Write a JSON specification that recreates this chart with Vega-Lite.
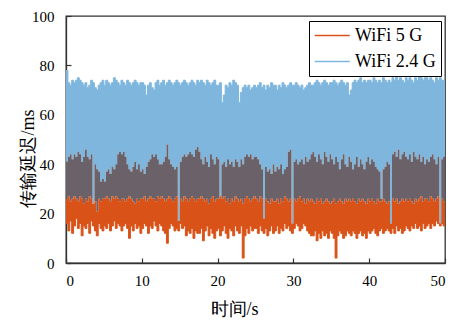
{
  "$schema": "https://vega.github.io/schema/vega-lite/v6.json",
  "width": 379,
  "height": 247,
  "autosize": {"type": "none"},
  "padding": {"left": 66, "top": 16, "right": 9, "bottom": 57},
  "config": {
    "view": {"stroke": "#333333", "strokeWidth": 1.3},
    "font": "Times New Roman",
    "axis": {
      "grid": false,
      "domainColor": "#333333",
      "domainWidth": 1.3,
      "tickColor": "#333333",
      "tickWidth": 1.2,
      "tickSize": -5,
      "labelFont": "Times New Roman",
      "labelFontSize": 15,
      "labelColor": "#000000",
      "titleFont": "Times New Roman",
      "titleFontSize": 18,
      "titleFontWeight": "normal",
      "titleColor": "#000000"
    },
    "legend": {
      "orient": "none",
      "legendX": 243,
      "legendY": 5,
      "strokeColor": "#000000",
      "strokeWidth": 1,
      "fillColor": "#ffffff",
      "padding": 5,
      "labelFont": "Times New Roman",
      "labelFontSize": 18,
      "labelColor": "#000000",
      "symbolType": "M-1,0H3",
      "symbolSize": 306,
      "symbolStrokeWidth": 1.5,
      "labelOffset": 22,
      "rowPadding": 7
    }
  },
  "data": {
    "values": [
      {"t":0,"h24":78,"l24":41,"h5":26,"l5":16},{"t":0.25,"h24":73,"l24":43,"h5":27,"l5":13},{"t":0.5,"h24":72,"l24":44,"h5":25,"l5":17},{"t":0.75,"h24":74,"l24":42,"h5":26,"l5":12},{"t":1,"h24":73,"l24":44,"h5":27,"l5":15},{"t":1.25,"h24":74,"l24":43,"h5":26,"l5":18},{"t":1.5,"h24":75,"l24":45,"h5":25,"l5":14},{"t":1.75,"h24":74,"l24":44,"h5":27,"l5":16},{"t":2,"h24":73,"l24":41,"h5":26,"l5":11},{"t":2.25,"h24":72,"l24":43,"h5":24,"l5":15},
      {"t":2.5,"h24":73,"l24":46,"h5":26,"l5":14},{"t":2.75,"h24":71,"l24":43,"h5":25,"l5":16},{"t":3,"h24":72,"l24":42,"h5":27,"l5":12},{"t":3.25,"h24":74,"l24":44,"h5":26,"l5":17},{"t":3.5,"h24":73,"l24":24,"h5":24,"l5":15},{"t":3.75,"h24":71,"l24":40,"h5":25,"l5":13},{"t":4,"h24":70,"l24":38,"h5":21,"l5":11},{"t":4.25,"h24":72,"l24":37,"h5":26,"l5":16},{"t":4.5,"h24":73,"l24":33,"h5":25,"l5":14},{"t":4.75,"h24":74,"l24":34,"h5":26,"l5":13},
      {"t":5,"h24":72,"l24":33,"h5":26,"l5":15},{"t":5.25,"h24":74,"l24":37,"h5":27,"l5":14},{"t":5.5,"h24":73,"l24":38,"h5":26,"l5":16},{"t":5.75,"h24":72,"l24":36,"h5":25,"l5":13},{"t":6,"h24":73,"l24":39,"h5":27,"l5":15},{"t":6.25,"h24":75,"l24":38,"h5":26,"l5":17},{"t":6.5,"h24":74,"l24":40,"h5":27,"l5":14},{"t":6.75,"h24":73,"l24":44,"h5":26,"l5":16},{"t":7,"h24":72,"l24":45,"h5":25,"l5":15},{"t":7.25,"h24":74,"l24":44,"h5":26,"l5":13},
      {"t":7.5,"h24":73,"l24":45,"h5":26,"l5":15},{"t":7.75,"h24":72,"l24":43,"h5":25,"l5":16},{"t":8,"h24":74,"l24":40,"h5":26,"l5":14},{"t":8.25,"h24":73,"l24":38,"h5":27,"l5":10},{"t":8.5,"h24":72,"l24":37,"h5":26,"l5":15},{"t":8.75,"h24":73,"l24":39,"h5":25,"l5":13},{"t":9,"h24":74,"l24":41,"h5":24,"l5":16},{"t":9.25,"h24":73,"l24":38,"h5":26,"l5":14},{"t":9.5,"h24":72,"l24":40,"h5":25,"l5":15},{"t":9.75,"h24":73,"l24":37,"h5":26,"l5":12},
      {"t":10,"h24":73,"l24":38,"h5":26,"l5":14},{"t":10.25,"h24":72,"l24":36,"h5":27,"l5":16},{"t":10.5,"h24":68,"l24":39,"h5":25,"l5":15},{"t":10.75,"h24":72,"l24":41,"h5":26,"l5":12},{"t":11,"h24":73,"l24":42,"h5":27,"l5":15},{"t":11.25,"h24":71,"l24":44,"h5":26,"l5":14},{"t":11.5,"h24":70,"l24":43,"h5":26,"l5":17},{"t":11.75,"h24":73,"l24":44,"h5":25,"l5":15},{"t":12,"h24":74,"l24":42,"h5":27,"l5":13},{"t":12.25,"h24":72,"l24":40,"h5":26,"l5":16},
      {"t":12.5,"h24":73,"l24":40,"h5":27,"l5":15},{"t":12.75,"h24":74,"l24":41,"h5":26,"l5":13},{"t":13,"h24":72,"l24":43,"h5":25,"l5":12},{"t":13.25,"h24":73,"l24":48,"h5":26,"l5":8},{"t":13.5,"h24":74,"l24":42,"h5":27,"l5":14},{"t":13.75,"h24":73,"l24":40,"h5":26,"l5":16},{"t":14,"h24":72,"l24":39,"h5":25,"l5":15},{"t":14.25,"h24":73,"l24":38,"h5":26,"l5":13},{"t":14.5,"h24":74,"l24":39,"h5":27,"l5":14},{"t":14.75,"h24":73,"l24":17,"h5":17,"l5":13},
      {"t":15,"h24":72,"l24":41,"h5":26,"l5":16},{"t":15.25,"h24":73,"l24":43,"h5":25,"l5":14},{"t":15.5,"h24":74,"l24":44,"h5":27,"l5":15},{"t":15.75,"h24":73,"l24":43,"h5":26,"l5":11},{"t":16,"h24":72,"l24":44,"h5":25,"l5":13},{"t":16.25,"h24":73,"l24":45,"h5":26,"l5":12},{"t":16.5,"h24":74,"l24":44,"h5":27,"l5":14},{"t":16.75,"h24":73,"l24":43,"h5":26,"l5":10},{"t":17,"h24":72,"l24":46,"h5":25,"l5":13},{"t":17.25,"h24":74,"l24":47,"h5":26,"l5":12},
      {"t":17.5,"h24":73,"l24":45,"h5":26,"l5":12},{"t":17.75,"h24":74,"l24":42,"h5":27,"l5":14},{"t":18,"h24":73,"l24":40,"h5":26,"l5":9},{"t":18.25,"h24":72,"l24":43,"h5":25,"l5":13},{"t":18.5,"h24":74,"l24":41,"h5":26,"l5":15},{"t":18.75,"h24":73,"l24":39,"h5":24,"l5":11},{"t":19,"h24":72,"l24":44,"h5":26,"l5":14},{"t":19.25,"h24":73,"l24":42,"h5":27,"l5":12},{"t":19.5,"h24":74,"l24":40,"h5":25,"l5":10},{"t":19.75,"h24":72,"l24":43,"h5":26,"l5":13},
      {"t":20,"h24":72,"l24":42,"h5":26,"l5":14},{"t":20.25,"h24":73,"l24":27,"h5":27,"l5":11},{"t":20.5,"h24":65,"l24":40,"h5":26,"l5":13},{"t":20.75,"h24":68,"l24":41,"h5":27,"l5":15},{"t":21,"h24":72,"l24":39,"h5":25,"l5":12},{"t":21.25,"h24":71,"l24":42,"h5":26,"l5":10},{"t":21.5,"h24":73,"l24":40,"h5":24,"l5":14},{"t":21.75,"h24":72,"l24":41,"h5":26,"l5":13},{"t":22,"h24":74,"l24":39,"h5":25,"l5":11},{"t":22.25,"h24":73,"l24":42,"h5":27,"l5":15},
      {"t":22.5,"h24":72,"l24":41,"h5":26,"l5":13},{"t":22.75,"h24":65,"l24":39,"h5":25,"l5":12},{"t":23,"h24":69,"l24":42,"h5":26,"l5":15},{"t":23.25,"h24":71,"l24":40,"h5":24,"l5":2},{"t":23.5,"h24":72,"l24":43,"h5":26,"l5":11},{"t":23.75,"h24":71,"l24":44,"h5":27,"l5":14},{"t":24,"h24":72,"l24":43,"h5":26,"l5":12},{"t":24.25,"h24":70,"l24":44,"h5":25,"l5":15},{"t":24.5,"h24":71,"l24":42,"h5":26,"l5":13},{"t":24.75,"h24":72,"l24":43,"h5":27,"l5":14},
      {"t":25,"h24":71,"l24":43,"h5":26,"l5":14},{"t":25.25,"h24":72,"l24":42,"h5":25,"l5":12},{"t":25.5,"h24":73,"l24":40,"h5":27,"l5":15},{"t":25.75,"h24":71,"l24":38,"h5":26,"l5":13},{"t":26,"h24":72,"l24":18,"h5":18,"l5":12},{"t":26.25,"h24":70,"l24":39,"h5":26,"l5":14},{"t":26.5,"h24":72,"l24":37,"h5":25,"l5":11},{"t":26.75,"h24":71,"l24":38,"h5":24,"l5":13},{"t":27,"h24":73,"l24":36,"h5":26,"l5":15},{"t":27.25,"h24":72,"l24":40,"h5":25,"l5":12},
      {"t":27.5,"h24":72,"l24":37,"h5":25,"l5":13},{"t":27.75,"h24":70,"l24":39,"h5":26,"l5":15},{"t":28,"h24":72,"l24":38,"h5":24,"l5":12},{"t":28.25,"h24":71,"l24":40,"h5":26,"l5":14},{"t":28.5,"h24":73,"l24":36,"h5":25,"l5":13},{"t":28.75,"h24":72,"l24":38,"h5":27,"l5":16},{"t":29,"h24":71,"l24":39,"h5":26,"l5":14},{"t":29.25,"h24":72,"l24":45,"h5":25,"l5":15},{"t":29.5,"h24":73,"l24":46,"h5":26,"l5":13},{"t":29.75,"h24":72,"l24":16,"h5":16,"l5":12},
      {"t":30,"h24":72,"l24":41,"h5":26,"l5":14},{"t":30.25,"h24":73,"l24":42,"h5":25,"l5":16},{"t":30.5,"h24":72,"l24":40,"h5":26,"l5":15},{"t":30.75,"h24":71,"l24":41,"h5":27,"l5":13},{"t":31,"h24":72,"l24":42,"h5":25,"l5":14},{"t":31.25,"h24":70,"l24":40,"h5":26,"l5":16},{"t":31.5,"h24":71,"l24":43,"h5":24,"l5":15},{"t":31.75,"h24":72,"l24":41,"h5":26,"l5":13},{"t":32,"h24":73,"l24":42,"h5":25,"l5":12},{"t":32.25,"h24":72,"l24":44,"h5":26,"l5":11},
      {"t":32.5,"h24":72,"l24":45,"h5":25,"l5":11},{"t":32.75,"h24":73,"l24":43,"h5":24,"l5":13},{"t":33,"h24":74,"l24":41,"h5":26,"l5":9},{"t":33.25,"h24":73,"l24":44,"h5":25,"l5":12},{"t":33.5,"h24":72,"l24":42,"h5":26,"l5":10},{"t":33.75,"h24":73,"l24":40,"h5":24,"l5":13},{"t":34,"h24":74,"l24":45,"h5":25,"l5":11},{"t":34.25,"h24":73,"l24":43,"h5":26,"l5":12},{"t":34.5,"h24":72,"l24":41,"h5":25,"l5":10},{"t":34.75,"h24":73,"l24":44,"h5":24,"l5":13},
      {"t":35,"h24":73,"l24":42,"h5":25,"l5":12},{"t":35.25,"h24":74,"l24":40,"h5":26,"l5":10},{"t":35.5,"h24":73,"l24":43,"h5":24,"l5":2},{"t":35.75,"h24":72,"l24":41,"h5":25,"l5":11},{"t":36,"h24":73,"l24":38,"h5":26,"l5":13},{"t":36.25,"h24":74,"l24":42,"h5":25,"l5":12},{"t":36.5,"h24":73,"l24":44,"h5":24,"l5":10},{"t":36.75,"h24":72,"l24":40,"h5":26,"l5":11},{"t":37,"h24":73,"l24":39,"h5":25,"l5":13},{"t":37.25,"h24":68,"l24":43,"h5":26,"l5":12},
      {"t":37.5,"h24":70,"l24":41,"h5":25,"l5":11},{"t":37.75,"h24":73,"l24":38,"h5":26,"l5":13},{"t":38,"h24":74,"l24":40,"h5":25,"l5":12},{"t":38.25,"h24":73,"l24":43,"h5":24,"l5":10},{"t":38.5,"h24":74,"l24":39,"h5":26,"l5":12},{"t":38.75,"h24":75,"l24":42,"h5":25,"l5":13},{"t":39,"h24":73,"l24":40,"h5":26,"l5":11},{"t":39.25,"h24":74,"l24":38,"h5":25,"l5":12},{"t":39.5,"h24":73,"l24":41,"h5":24,"l5":10},{"t":39.75,"h24":74,"l24":43,"h5":26,"l5":13},
      {"t":40,"h24":74,"l24":40,"h5":25,"l5":12},{"t":40.25,"h24":73,"l24":42,"h5":26,"l5":13},{"t":40.5,"h24":75,"l24":41,"h5":25,"l5":14},{"t":40.75,"h24":74,"l24":39,"h5":24,"l5":12},{"t":41,"h24":73,"l24":38,"h5":26,"l5":11},{"t":41.25,"h24":74,"l24":37,"h5":25,"l5":13},{"t":41.5,"h24":73,"l24":26,"h5":25,"l5":14},{"t":41.75,"h24":75,"l24":38,"h5":26,"l5":12},{"t":42,"h24":74,"l24":39,"h5":25,"l5":13},{"t":42.25,"h24":73,"l24":41,"h5":24,"l5":14},
      {"t":42.5,"h24":74,"l24":40,"h5":25,"l5":13},{"t":42.75,"h24":73,"l24":16,"h5":16,"l5":12},{"t":43,"h24":75,"l24":44,"h5":26,"l5":14},{"t":43.25,"h24":74,"l24":45,"h5":25,"l5":12},{"t":43.5,"h24":76,"l24":43,"h5":26,"l5":15},{"t":43.75,"h24":74,"l24":46,"h5":24,"l5":13},{"t":44,"h24":75,"l24":42,"h5":25,"l5":14},{"t":44.25,"h24":74,"l24":44,"h5":26,"l5":12},{"t":44.5,"h24":73,"l24":45,"h5":25,"l5":13},{"t":44.75,"h24":75,"l24":43,"h5":26,"l5":15},
      {"t":45,"h24":74,"l24":42,"h5":25,"l5":14},{"t":45.25,"h24":75,"l24":44,"h5":26,"l5":13},{"t":45.5,"h24":74,"l24":41,"h5":25,"l5":15},{"t":45.75,"h24":73,"l24":45,"h5":24,"l5":14},{"t":46,"h24":75,"l24":43,"h5":26,"l5":16},{"t":46.25,"h24":74,"l24":42,"h5":25,"l5":14},{"t":46.5,"h24":76,"l24":44,"h5":26,"l5":15},{"t":46.75,"h24":75,"l24":41,"h5":27,"l5":13},{"t":47,"h24":74,"l24":43,"h5":25,"l5":16},{"t":47.25,"h24":75,"l24":40,"h5":26,"l5":14},
      {"t":47.5,"h24":75,"l24":42,"h5":26,"l5":15},{"t":47.75,"h24":74,"l24":41,"h5":25,"l5":16},{"t":48,"h24":75,"l24":43,"h5":27,"l5":14},{"t":48.25,"h24":74,"l24":44,"h5":26,"l5":16},{"t":48.5,"h24":73,"l24":42,"h5":25,"l5":15},{"t":48.75,"h24":75,"l24":40,"h5":26,"l5":17},{"t":49,"h24":74,"l24":43,"h5":27,"l5":16},{"t":49.25,"h24":75,"l24":16,"h5":16,"l5":15},{"t":49.5,"h24":74,"l24":42,"h5":26,"l5":16},{"t":49.75,"h24":74,"l24":43,"h5":25,"l5":15},
      {"t":50,"h24":74,"l24":43,"h5":25,"l5":15}
    ]
  },
  "encoding": {
    "x": {
      "field": "t",
      "type": "quantitative",
      "scale": {"domain": [0, 50], "nice": false},
      "axis": {"title": "时间/s", "values": [0, 10, 20, 30, 40, 50], "labelPadding": 15, "titleX": 168, "titleY": 46, "titleBaseline": "middle", "titleAnchor": null}
    }
  },
  "layer": [
    {
      "mark": {"type": "area", "interpolate": "step-after", "color": "#7EB6DD", "opacity": 1},
      "encoding": {
        "y": {
          "field": "h24",
          "type": "quantitative",
          "scale": {"domain": [0, 100], "nice": false},
          "axis": {"title": "传输延迟/ms", "values": [0, 20, 40, 60, 80, 100], "labelPadding": 17, "titleX": -38, "titleY": 142, "titleBaseline": "middle", "titleAngle": -90}
        },
        "y2": {"field": "l24"}
      }
    },
    {
      "mark": {"type": "area", "interpolate": "step-after", "color": "#6B6169", "opacity": 1},
      "encoding": {
        "y": {"field": "l24", "type": "quantitative"},
        "y2": {"field": "h5"}
      }
    },
    {
      "mark": {"type": "area", "interpolate": "step-after", "color": "#D95319", "opacity": 1},
      "encoding": {
        "y": {"field": "h5", "type": "quantitative"},
        "y2": {"field": "l5"}
      }
    },
    {
      "mark": {"type": "line", "interpolate": "step-after", "strokeWidth": 1},
      "encoding": {
        "y": {"field": "l5", "type": "quantitative"},
        "color": {
          "datum": "WiFi 5 G",
          "type": "nominal",
          "scale": {"domain": ["WiFi 5 G", "WiFi 2.4 G"], "range": ["#D95319", "#7EB6DD"]},
          "legend": {"title": null}
        }
      }
    },
    {
      "mark": {"type": "line", "interpolate": "step-after", "strokeWidth": 1},
      "encoding": {
        "y": {"field": "h24", "type": "quantitative"},
        "color": {"datum": "WiFi 2.4 G", "type": "nominal"}
      }
    }
  ]
}
